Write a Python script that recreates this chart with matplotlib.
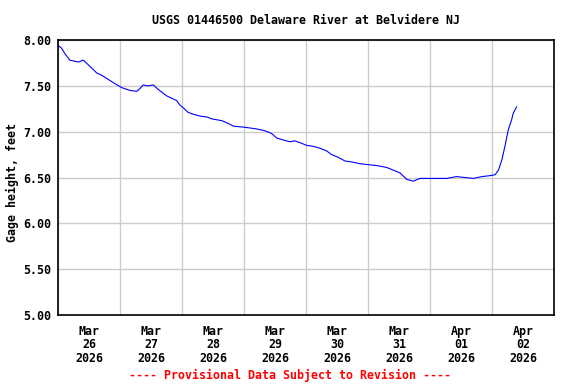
import numpy as np
import pandas as pd
import matplotlib
matplotlib.use("Agg")
from matplotlib import pyplot as plt
import matplotlib.dates as mdates

# hours since 2026-03-26 00:00 and gage height (ft)
hours = [0, 1.4, 2.7, 4.6, 6.2, 7.9, 9.8, 11.7, 13.2, 15.0, 16.6, 18.9, 21.7,
         24.7, 27.9, 30.5, 31.7, 33.0, 34.8, 36.9, 38.8, 42.1, 45.9, 47.2,
         48.5, 50.4, 52.4, 55.0, 57.6, 59.5, 61.4, 63.4, 65.9, 67.9, 71.7,
         74.3, 76.9, 80.1, 82.7, 84.7, 87.2, 89.8, 91.7, 93.7, 96.3, 98.8,
         101.4, 104.0, 105.9, 108.5, 111.1, 113.7, 116.9, 120.1, 123.4,
         127.2, 129.8, 132.4, 135.0, 137.5, 140.1, 145.2, 150.5, 154.3,
         157.5, 160.8, 164.1, 167.2, 169.2, 170.5, 171.8, 173.0, 174.3,
         175.6, 176.2, 177.5]
gage = [7.94, 7.91, 7.85, 7.78, 7.77, 7.76, 7.78, 7.73, 7.69, 7.64, 7.62, 7.58,
        7.53, 7.48, 7.45, 7.44, 7.47, 7.51, 7.50, 7.51, 7.46, 7.39, 7.34, 7.29,
        7.26, 7.21, 7.19, 7.17, 7.16, 7.14, 7.13, 7.12, 7.09, 7.06, 7.05, 7.04,
        7.03, 7.01, 6.98, 6.93, 6.91, 6.89, 6.90, 6.88, 6.85, 6.84, 6.82, 6.79,
        6.75, 6.72, 6.68, 6.67, 6.65, 6.64, 6.63, 6.61, 6.58, 6.55, 6.48, 6.46,
        6.49, 6.49, 6.49, 6.51, 6.50, 6.49, 6.51, 6.52, 6.53, 6.58, 6.69, 6.84,
        7.02, 7.13, 7.20, 7.27]
y_ticks = [5.0, 5.5, 6.0, 6.5, 7.0, 7.5, 8.0]

start = pd.Timestamp("2026-03-26")
times = start + pd.to_timedelta(hours, unit="h")

font = "DejaVu Sans Mono"
fs = 8.4

fig = plt.figure(figsize=(5.76, 3.84), dpi=100)
ax = fig.add_axes([58/576, 1-315/384, 496/576, 275/384])

ax.plot(times, gage, color="#0000ff", lw=0.8)

ax.set_xlim(start, start + pd.Timedelta(days=8))
ax.set_ylim(5.0, 8.0)
ax.set_yticks(y_ticks)
ax.set_yticklabels(["%.2f" % v for v in y_ticks], fontfamily=font,
                   fontweight="bold", fontsize=fs)

ax.xaxis.set_major_locator(mdates.DayLocator())
ax.xaxis.set_major_formatter(plt.NullFormatter())
ax.xaxis.set_minor_locator(mdates.HourLocator(byhour=12))
ax.xaxis.set_minor_formatter(mdates.DateFormatter("%b\n%d\n%Y"))
for lab in ax.get_xticklabels(minor=True):
    lab.set_fontfamily(font)
    lab.set_fontweight("bold")
    lab.set_fontsize(fs)
    lab.set_linespacing(1.05)

ax.tick_params(axis="both", which="both", length=0)
ax.tick_params(axis="x", which="minor", pad=7)
ax.tick_params(axis="y", pad=5)
ax.grid(True, which="major", color="#cccccc", lw=1)
ax.set_axisbelow(True)
for s in ax.spines.values():
    s.set_linewidth(1.2)
    s.set_color("black")

fig.text(12/576, 1-183/384, "Gage height, feet", rotation=90, ha="center",
         va="center", fontfamily=font, fontweight="bold", fontsize=fs)
fig.text(306/576, 1-20/384, "USGS 01446500 Delaware River at Belvidere NJ",
         ha="center", va="center", fontfamily=font, fontweight="bold", fontsize=fs)
fig.text(290/576, 1-375/384, "---- Provisional Data Subject to Revision ----",
         ha="center", va="center", color="red", fontfamily=font,
         fontweight="bold", fontsize=fs)

fig.savefig("out.png", dpi=100)
